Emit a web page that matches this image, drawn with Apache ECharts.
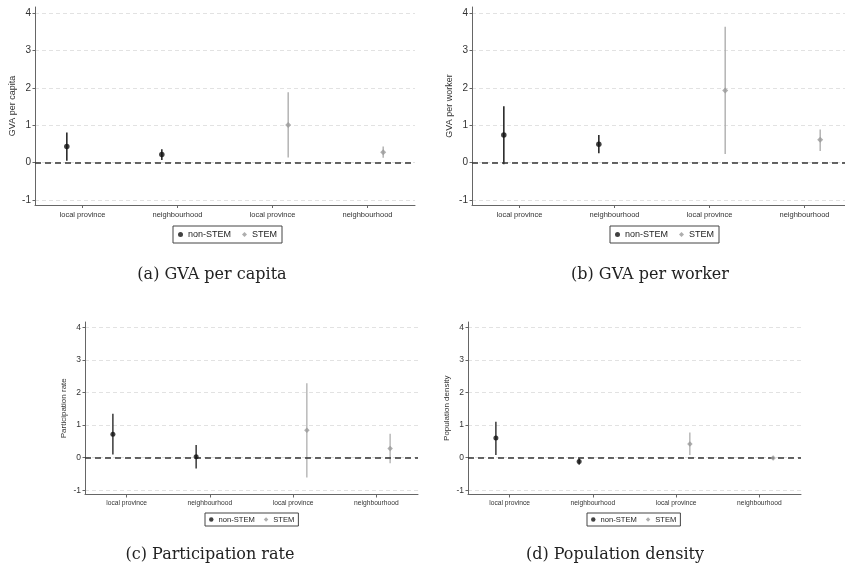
<!DOCTYPE html>
<html><head><meta charset="utf-8">
<script src="https://cdn.jsdelivr.net/npm/echarts@6/dist/echarts.min.js"></script>
<style>html,body{margin:0;padding:0;background:#fff}#c{width:845px;height:571px}</style>
</head><body><div id="c"></div>
<script>
// ---------- data ----------
const categories = ['local province', 'neighbourhood', 'local province', 'neighbourhood'];
const yTicks = [-1, 0, 1, 2, 3, 4];
const seriesNames = ['non-STEM', 'STEM'];
const panelTitles = ['GVA per capita', 'GVA per worker', 'Participation rate', 'Population density'];
const captions = ['(a) GVA per capita', '(b) GVA per worker', '(c) Participation rate', '(d) Population density'];

// point estimates and confidence bounds: [local province, neighbourhood]
const gvaCapitaNonStem   = [0.43, 0.22];
const gvaCapitaNonStemLo = [0.05, 0.07];
const gvaCapitaNonStemHi = [0.81, 0.36];
const gvaCapitaStem      = [1.01, 0.28];
const gvaCapitaStemLo    = [0.14, 0.13];
const gvaCapitaStemHi    = [1.88, 0.43];

const gvaWorkerNonStem   = [0.74, 0.49];
const gvaWorkerNonStemLo = [-0.04, 0.25];
const gvaWorkerNonStemHi = [1.51, 0.74];
const gvaWorkerStem      = [1.93, 0.61];
const gvaWorkerStemLo    = [0.23, 0.31];
const gvaWorkerStemHi    = [3.63, 0.89];

const partNonStem   = [0.72, 0.03];
const partNonStemLo = [0.10, -0.33];
const partNonStemHi = [1.35, 0.39];
const partStem      = [0.84, 0.28];
const partStemLo    = [-0.61, -0.17];
const partStemHi    = [2.28, 0.73];

const popNonStem   = [0.60, -0.12];
const popNonStemLo = [0.08, -0.22];
const popNonStemHi = [1.10, -0.02];
const popStem      = [0.42, -0.01];
const popStemLo    = [0.08, -0.05];
const popStemHi    = [0.77, 0.03];

const panelData = [
  [gvaCapitaNonStem, gvaCapitaNonStemLo, gvaCapitaNonStemHi, gvaCapitaStem, gvaCapitaStemLo, gvaCapitaStemHi],
  [gvaWorkerNonStem, gvaWorkerNonStemLo, gvaWorkerNonStemHi, gvaWorkerStem, gvaWorkerStemLo, gvaWorkerStemHi],
  [partNonStem, partNonStemLo, partNonStemHi, partStem, partStemLo, partStemHi],
  [popNonStem, popNonStemLo, popNonStemHi, popStem, popStemLo, popStemHi]
];

// ---------- layout / style ----------
const layouts = [
  {grid: {left: 35, right: 430, top: 7, bottom: 366}, big: true, legend: {left: 173, top: 226}, cap: {x: 212, y: 267}},
  {grid: {left: 472, right: -7, top: 7, bottom: 366}, big: true, legend: {left: 610, top: 226}, cap: {x: 650, y: 267}},
  {grid: {left: 85, right: 427, top: 322, bottom: 76.5}, big: false, legend: {left: 205, top: 513}, cap: {x: 210, y: 547}},
  {grid: {left: 468, right: 44, top: 322, bottom: 76.5}, big: false, legend: {left: 587, top: 513}, cap: {x: 615, y: 547}}
];
const OFFSET = 0.165;
const FONT = 'Liberation Sans, Arial, sans-serif';

const grids = [], xAxes = [], yAxes = [], series = [], legends = [], titles = [];

function ciRender(color, width) {
  return function (params, api) {
    const x = api.value(0);
    const p1 = api.coord([x, api.value(1)]);
    const p2 = api.coord([x, api.value(2)]);
    return {type: 'line', shape: {x1: p1[0], y1: p1[1], x2: p2[0], y2: p2[1]},
            style: {stroke: color, lineWidth: width}};
  };
}

layouts.forEach((L, p) => {
  const big = L.big;
  grids.push(Object.assign({outerBoundsMode: 'none', containLabel: false}, L.grid));
  xAxes.push({
    type: 'value', gridIndex: p, min: -0.5, max: 3.5, position: 'bottom',
    axisLine: {show: true, onZero: false, lineStyle: {color: '#666', width: 1}},
    axisTick: {show: true, customValues: [0, 1, 2, 3], length: 3, lineStyle: {color: '#666'}},
    axisLabel: {customValues: [0, 1, 2, 3], formatter: v => categories[Math.round(v)],
                fontFamily: FONT, fontSize: big ? 7.5 : 6.7, color: '#333', margin: big ? 6 : 5},
    splitLine: {show: false}
  });
  yAxes.push({
    type: 'value', gridIndex: p, min: -1.13, max: 4.16, position: 'left',
    name: panelTitles[p], nameLocation: 'middle', nameGap: big ? 18 : 17,
    nameTextStyle: {fontFamily: FONT, fontSize: big ? 9 : 8, color: '#333'},
    axisLine: {show: true, onZero: false, lineStyle: {color: '#666', width: 1}},
    axisTick: {show: true, customValues: yTicks, length: 2.5, lineStyle: {color: '#666'}},
    axisLabel: {customValues: yTicks, fontFamily: FONT, fontSize: big ? 10 : 8.5, color: '#333', margin: 4},
    splitLine: {show: true, lineStyle: {color: '#e2e2e2', type: [4, 3], width: 1}}
  });
  const d = panelData[p];
  const nsPts = d[0].map((v, i) => [i - OFFSET, v]);
  const nsCI = d[0].map((v, i) => [i - OFFSET, d[1][i], d[2][i]]);
  const stPts = d[3].map((v, i) => [i + 2 + OFFSET, v]);
  const stCI = d[3].map((v, i) => [i + 2 + OFFSET, d[4][i], d[5][i]]);
  series.push({
    type: 'custom', name: 'ci-ns-' + p, xAxisIndex: p, yAxisIndex: p, silent: true, z: 2,
    renderItem: ciRender('#2a2a2a', big ? 1.6 : 1.4), encode: {x: 0, y: [1, 2]}, data: nsCI
  });
  series.push({
    type: 'custom', name: 'ci-st-' + p, xAxisIndex: p, yAxisIndex: p, silent: true, z: 2,
    renderItem: ciRender('#a8a8a8', big ? 1.3 : 1.2), encode: {x: 0, y: [1, 2]}, data: stCI
  });
  series.push({
    type: 'scatter', name: seriesNames[0], xAxisIndex: p, yAxisIndex: p, z: 4, silent: true,
    symbol: 'circle', symbolSize: big ? 5.5 : 5, itemStyle: {color: '#111'}, data: nsPts,
    markLine: {silent: true, symbol: 'none', label: {show: false},
               lineStyle: {color: '#333', type: [6, 4], width: 1.5}, data: [{yAxis: 0}], z: 3}
  });
  series.push({
    type: 'scatter', name: seriesNames[1], xAxisIndex: p, yAxisIndex: p, z: 4, silent: true,
    symbol: 'diamond', symbolSize: big ? 6 : 5.5, itemStyle: {color: '#9a9a9a'}, data: stPts
  });
  legends.push({
    left: L.legend.left, top: L.legend.top, orient: 'horizontal', selectedMode: false,
    data: [{name: seriesNames[0], icon: 'circle'}, {name: seriesNames[1], icon: 'diamond'}],
    itemWidth: big ? 5 : 4.5, itemHeight: big ? 5 : 4.5, itemGap: big ? 11 : 9,
    padding: big ? [4, 5] : [2.5, 4], borderColor: '#444', borderWidth: 1,
    textStyle: {fontFamily: FONT, fontSize: big ? 9 : 7.6, color: '#222'}
  });
  titles.push({
    text: captions[p], left: L.cap.x, top: L.cap.y, textAlign: 'center', padding: 0,
    textStyle: {fontFamily: 'DejaVu Serif, serif', fontSize: 16, fontWeight: 'normal', color: '#222'}
  });
});

const chart = echarts.init(document.getElementById('c'), null, {renderer: 'canvas'});
chart.setOption({
  animation: false, backgroundColor: '#fff',
  title: titles, grid: grids, xAxis: xAxes, yAxis: yAxes, legend: legends, series: series
});
</script></body></html>
